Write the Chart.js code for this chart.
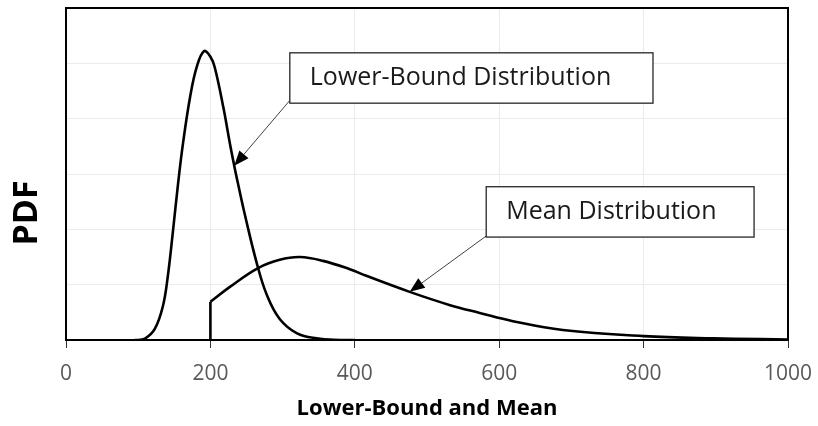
<!DOCTYPE html>
<html>
<head>
<meta charset="utf-8">
<script src="https://cdn.jsdelivr.net/npm/chart.js@4.4.0/dist/chart.umd.min.js"></script>
<style>
  html, body { margin: 0; padding: 0; background: #fff; }
  #wrap { width: 818px; height: 426px; }
</style>
</head>
<body>
<div id="wrap"><canvas id="pdfChart" width="818" height="426"></canvas></div>
<script>
// lower-bound distribution
const lowerX = [95, 100, 110, 123, 134, 141, 148, 155, 162, 172, 181, 191, 200, 206, 218, 227, 233, 237, 248, 264, 278, 296, 320, 347, 380, 400];
const lowerY = [0, 0, 0.03, 0.2, 0.6, 1.15, 1.95, 2.8, 3.55, 4.4, 4.93, 5.22, 5.12, 4.93, 4.2, 3.55, 3.15, 2.9, 2.25, 1.4, 0.82, 0.38, 0.12, 0.03, 0, 0];

// mean distribution (starts at 200)
const meanX = [200, 227, 266, 296, 324, 356, 393, 416, 476, 532, 573, 619, 688, 800, 896, 1000];
const meanY = [0.69, 0.96, 1.3, 1.45, 1.5, 1.43, 1.28, 1.16, 0.87, 0.63, 0.49, 0.34, 0.18, 0.07, 0.03, 0.01];

const xTicks = [0, 200, 400, 600, 800, 1000];

const xyPoints = (xs, ys) => xs.map((x, i) => ({ x: x, y: ys[i] }));

// callout boxes with arrows, in data units
const callouts = [
    { text: "Lower-Bound Distribution", box: [310, 5.19, 813, 4.28], from: [310, 4.33], to: [233, 3.15] },
    { text: "Mean Distribution", box: [582, 2.77, 953, 1.86], from: [582, 1.88], to: [476, 0.87] }
];

const chartDecor = {
    id: "chartDecor",
    afterDraw(chart) {
        const ctx = chart.ctx;
        const area = chart.chartArea;
        const xs = chart.scales.x;
        const ys = chart.scales.y;
        ctx.save();

        // frame round the plot
        ctx.strokeStyle = "#000";
        ctx.lineWidth = 2;
        ctx.strokeRect(area.left, area.top, area.right - area.left, area.bottom - area.top);

        callouts.forEach(c => {
            const x1 = xs.getPixelForValue(c.from[0]);
            const y1 = ys.getPixelForValue(c.from[1]);
            const x2 = xs.getPixelForValue(c.to[0]);
            const y2 = ys.getPixelForValue(c.to[1]);
            const ang = Math.atan2(y2 - y1, x2 - x1);
            const headLen = 15, headW = 6;
            const bx = x2 - headLen * Math.cos(ang);
            const by = y2 - headLen * Math.sin(ang);

            ctx.strokeStyle = "#404040";
            ctx.lineWidth = 1;
            ctx.beginPath();
            ctx.moveTo(x1, y1);
            ctx.lineTo(bx, by);
            ctx.stroke();

            ctx.fillStyle = "#000";
            ctx.beginPath();
            ctx.moveTo(x2, y2);
            ctx.lineTo(bx + headW * Math.sin(ang), by - headW * Math.cos(ang));
            ctx.lineTo(bx - headW * Math.sin(ang), by + headW * Math.cos(ang));
            ctx.closePath();
            ctx.fill();

            const l = xs.getPixelForValue(c.box[0]);
            const t = ys.getPixelForValue(c.box[1]);
            const r = xs.getPixelForValue(c.box[2]);
            const b = ys.getPixelForValue(c.box[3]);
            ctx.fillStyle = "#fff";
            ctx.fillRect(l, t, r - l, b - t);
            ctx.strokeStyle = "#262626";
            ctx.lineWidth = 1.3;
            ctx.strokeRect(l, t, r - l, b - t);

            ctx.fillStyle = "#1a1a1a";
            ctx.font = "25px 'Open Sans'";
            ctx.textBaseline = "middle";
            ctx.textAlign = "left";
            ctx.fillText(c.text, l + 20, (t + b) / 2);
        });

        // y axis title, centred on the canvas height
        ctx.translate(27, chart.height / 2);
        ctx.rotate(-Math.PI / 2);
        ctx.fillStyle = "#000";
        ctx.font = "bold 34px 'Open Sans'";
        ctx.textAlign = "center";
        ctx.textBaseline = "middle";
        ctx.fillText("PDF", 0, 0);
        ctx.restore();
    }
};

new Chart(document.getElementById("pdfChart"), {
    type: "line",
    data: {
        datasets: [
            {
                label: "Lower-Bound Distribution",
                data: xyPoints(lowerX, lowerY),
                borderColor: "#000",
                borderWidth: 2.6,
                pointRadius: 0,
                tension: 0.4
            },
            {
                label: "Mean Distribution",
                data: xyPoints(meanX, meanY),
                borderColor: "#000",
                borderWidth: 2.6,
                pointRadius: 0,
                tension: 0.4
            },
            {
                // vertical edge where the mean distribution begins
                label: "Mean start",
                data: [{ x: meanX[0], y: 0 }, { x: meanX[0], y: meanY[0] }],
                borderColor: "#000",
                borderWidth: 2.6,
                pointRadius: 0,
                tension: 0
            }
        ]
    },
    options: {
        responsive: false,
        devicePixelRatio: 1,
        animation: false,
        layout: { padding: { top: 8, right: 30, left: 0, bottom: 0 } },
        plugins: {
            legend: { display: false },
            tooltip: { enabled: false }
        },
        scales: {
            x: {
                type: "linear",
                min: 0,
                max: 1000,
                afterFit: s => { s.height = 86; s.paddingLeft = 0; s.paddingRight = 0; },
                afterBuildTicks: s => { s.ticks = xTicks.map(v => ({ value: v })); },
                grid: { color: "#ebebeb", tickColor: "#333", tickLength: 8, drawTicks: true },
                border: { color: "#000", width: 2 },
                ticks: {
                    color: "#595959",
                    font: { family: "'Open Sans'", size: 21 },
                    padding: 13,
                    maxRotation: 0,
                    callback: v => String(v)
                },
                title: {
                    display: true,
                    text: "Lower-Bound and Mean",
                    color: "#000",
                    font: { family: "'Open Sans'", size: 22, weight: "bold" },
                    padding: { top: 0, bottom: 4 }
                }
            },
            y: {
                min: 0,
                max: 6,
                afterFit: s => { s.width = 66; },
                ticks: { display: false, stepSize: 1 },
                grid: { color: "#ebebeb", drawTicks: false },
                border: { color: "#000", width: 2 }
            }
        }
    },
    plugins: [chartDecor]
});
</script>
</body>
</html>
